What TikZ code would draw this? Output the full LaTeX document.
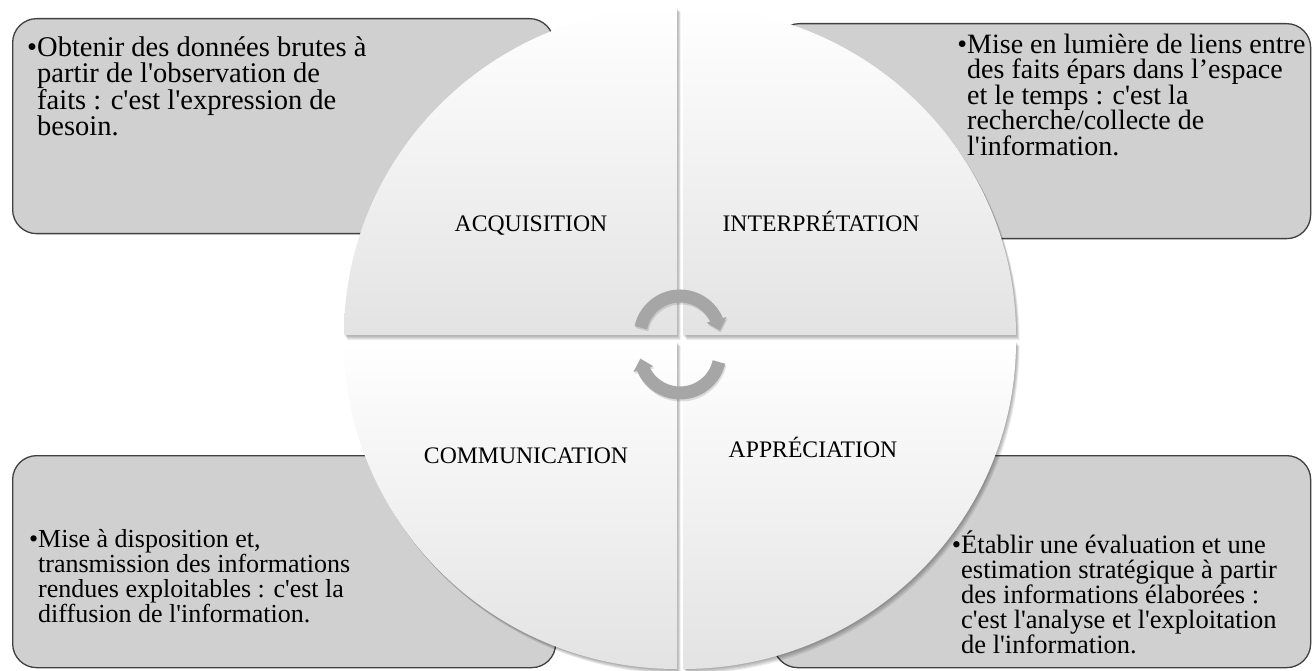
\documentclass[tikz,border=0pt]{standalone}
\usepackage{fontspec}
\setmainfont{Liberation Serif}[Ligatures=TeXOff]
\usetikzlibrary{arrows.meta,bending}
\definecolor{boxfill}{HTML}{D0D0D0}
\definecolor{boxline}{HTML}{404040}
\definecolor{arrowgray}{HTML}{A6A6A6}
\begin{document}
\begin{tikzpicture}[x=1pt,y=-1pt,
  infobox/.style={draw=boxline, line width=1.3pt, fill=boxfill, rounded corners=24pt, inner sep=0pt, anchor=north west},
  quad/.style={top color=white, bottom color=black!11},
  qshadow/.style={fill=black, opacity=0.07},
  body/.style={inner sep=0pt, anchor=north west, align=left},
  label/.style={inner sep=0pt, anchor=base, font=\fontsize{23.7pt}{28pt}\selectfont},
  cyc/.style={draw=arrowgray, line width=13pt, -{Triangle[length=11pt,width=20pt]}},
  cycshadow/.style={draw=black, opacity=0.12, line width=13pt, -{Triangle[length=11pt,width=20pt]}}]
\useasboundingbox (0,0) rectangle (1312,671);
\fill[white] (0,0) rectangle (1312,671);
% corner boxes
\node[infobox, minimum width=541pt, minimum height=215pt] (tlbox) at (12,18) {};
\node[infobox, minimum width=535pt, minimum height=215pt] (trbox) at (775,23) {};
\node[infobox, minimum width=543pt, minimum height=212pt] (blbox) at (12,455) {};
\node[infobox, minimum width=537pt, minimum height=212pt] (brbox) at (773,455) {};
% quadrant shadows
\foreach \cx/\cy/\sa in {677/335/180, 683/335/270, 683/341/0, 677/341/90}{
  \foreach \k in {1,...,5}{
    \fill[qshadow, shift={(\k*0.7,\k*1.0)}] (\cx,\cy) -- ++(\sa:333 and 328)
      arc[start angle=\sa, end angle=\sa+90, x radius=333, y radius=328] -- cycle;
  }
}
% quadrants
\foreach \cx/\cy/\sa in {677/335/180, 683/335/270, 683/341/0, 677/341/90}{
  \path[quad] (\cx,\cy) -- ++(\sa:333 and 328)
    arc[start angle=\sa, end angle=\sa+90, x radius=333, y radius=328] -- cycle;
}
% quadrant labels
\node[label] (acq) at (531,232) {ACQUISITION};
\node[label] (int) at (821,232) {INTERPRÉTATION};
\node[label] (com) at (526,463) {COMMUNICATION};
\node[label] (app) at (813,457) {APPRÉCIATION};
% cycle arrows
\draw[cycshadow] (681,338) ++(-168:40) arc[start angle=-168, end angle=-8, radius=40];
\draw[cycshadow] (681,355) ++(13:40) arc[start angle=13, end angle=172, radius=40];
\draw[cyc] (680,336) ++(-168:40) arc[start angle=-168, end angle=-8, radius=40];
\draw[cyc] (680,353) ++(13:40) arc[start angle=13, end angle=172, radius=40];
% box texts
\node[body, font=\fontsize{28.5pt}{26pt}\selectfont] (tltext) at (37,31) {\llap{•}\rule{0pt}{25pt}Obtenir des données brutes à\\partir de l'observation de\\faits : c'est l'expression de\\besoin.};
\node[body, font=\fontsize{28pt}{25.6pt}\selectfont] (trtext) at (967,28) {\llap{•}\rule{0pt}{25pt}Mise en lumière de liens entre\\des faits épars dans l’espace\\et le temps : c'est la\\recherche/collecte de\\l'information.};
\node[body, font=\fontsize{26pt}{25pt}\selectfont] (bltext) at (38,522) {\llap{•}\rule{0pt}{25pt}Mise à disposition et,\\transmission des informations\\rendues exploitables : c'est la\\diffusion de l'information.};
\node[body, font=\fontsize{26.5pt}{25pt}\selectfont] (brtext) at (961,528) {\llap{•}\rule{0pt}{25pt}Établir une évaluation et une\\estimation stratégique à partir\\des informations élaborées :\\c'est l'analyse et l'exploitation\\de l'information.};
\end{tikzpicture}
\end{document}
